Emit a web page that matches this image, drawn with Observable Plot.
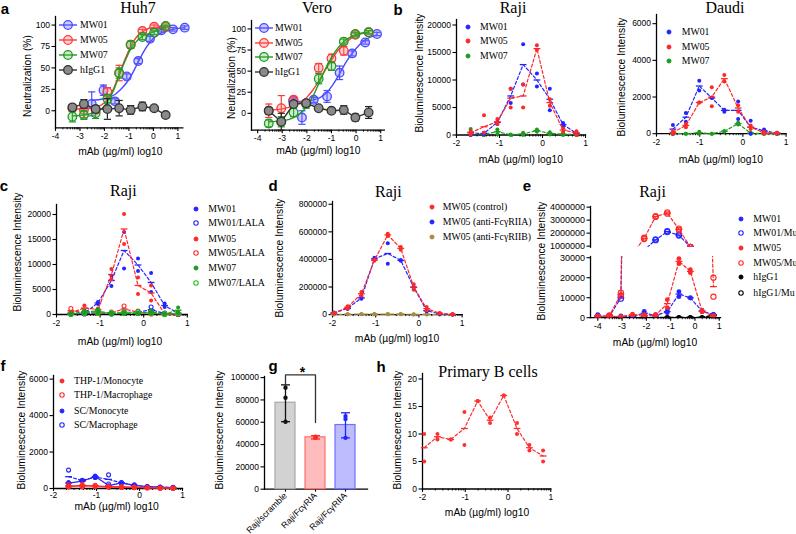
<!DOCTYPE html>
<html><head><meta charset="utf-8">
<script src="https://cdn.jsdelivr.net/npm/d3@7"></script>
<script src="https://cdn.jsdelivr.net/npm/@observablehq/plot@0.6"></script>
<style>
body{margin:0;background:#fff;}
#fig{position:relative;width:796px;height:534px;overflow:hidden;background:#fff;}
.t{position:absolute;white-space:nowrap;line-height:1;color:#000;}
</style></head><body><div id="fig"></div>
<script>
// ---------------- DATA ----------------
// a: Huh7 neutralization (%)
const huh7X = [-3.31, -2.84, -2.36, -1.88, -1.40, -0.93, -0.45, 0.03, 0.50];
const huh7X_MW01 = [-2.52, -2.04, -1.57, -1.09, -0.62, -0.14, 0.33, 0.80, 1.28];
const huh7_MW01 = [8, 24, 11, 40, 58, 84, 94, 95, 97];
const huh7_MW01_err = [14, 6, 3, 3, 3, 3, 2, 2, 2];
const huh7_MW05 = [3, 1, 1, 22, 44, 77, 93, 98, 98];
const huh7_MW05_err = [4, 9, 4, 5, 9, 4, 2, 2, 1];
const huh7_MW07 = [-7, -5, -3, 14, 44, 77, 86, 91, 99];
const huh7_MW07_err = [6, 5, 6, 5, 6, 4, 3, 2, 1];
const huh7_hIgG1 = [4, 8, 2, 2, 3, 1, 5, 3, -5];
const huh7_hIgG1_err = [3, 5, 4, 12, 9, 5, 5, 2, 2];
const huh7FitX = [-3.31, -2.84, -2.36, -1.88, -1.64, -1.40, -1.16, -0.93, -0.69, -0.45, -0.20, 0.03, 0.50];
const huh7Fit_MW05 = [2, 2, 4, 13, 25, 42, 60, 75, 86, 92, 96, 97, 98];
const huh7Fit_MW07 = [-6, -5, -2, 10, 23, 41, 58, 72, 81, 87, 90, 92, 97];
const huh7FitX_MW01 = [-2.52, -2.04, -1.57, -1.33, -1.09, -0.85, -0.62, -0.38, -0.14, 0.10, 0.33, 0.80, 1.28];
const huh7Fit_MW01 = [12, 14, 19, 25, 33, 44, 57, 70, 80, 87, 91, 95, 97];
// a: Vero
const veroX = [-3.55, -3.04, -2.54, -2.03, -1.52, -1.00, -0.50, -0.03, 0.51];
const vero_MW05 = [3, 6, 16, 12, 54, 65, 74, 93, 96];
const vero_MW05_err = [8, 15, 4, 3, 5, 5, 5, 2, 2];
const vero_MW07 = [-12, -10, 1, 11, 41, 56, 85, 94, 96];
const vero_MW07_err = [4, 6, 5, 5, 6, 5, 3, 2, 2];
const vero_hIgG1 = [3, -10, 11, 12, 6, 3, 4, -5, 1];
const vero_hIgG1_err = [4, 10, 3, 3, 2, 2, 5, 4, 7];
const veroX_MW01 = [-2.56, -2.20, -1.72, -1.18, -0.67, -0.16, 0.37, 0.85];
const vero_MW01 = [15, -5, 16, 20, 48, 71, 84, 94];
const vero_MW01_err = [3, 8, 3, 7, 8, 3, 2, 2];
const veroFitX = [-3.55, -3.04, -2.54, -2.03, -1.77, -1.52, -1.26, -1.00, -0.75, -0.50, -0.25, -0.03, 0.51];
const veroFit_MW05 = [4, 5, 9, 18, 27, 38, 51, 63, 74, 82, 88, 92, 96];
const veroFit_MW07 = [-10, -9, -5, 7, 19, 35, 52, 66, 77, 85, 90, 93, 96];
const veroFitX_MW01 = [-2.56, -2.20, -1.72, -1.45, -1.18, -0.92, -0.67, -0.42, -0.16, 0.10, 0.37, 0.85];
const veroFit_MW01 = [14, 14, 16, 19, 25, 35, 47, 60, 71, 80, 87, 93];

// b: Raji
const bX = [-1.67, -1.36, -1.05, -0.74, -0.45, -0.13, 0.17, 0.48, 0.79];
const b_MW01_r1 = [100, 400, 2400, 5800, 16500, 11200, 8400, 2200, 400];
const b_MW01_r2 = [0, 100, 2000, 8400, 9200, 8800, 4500, 1500, 100];
const b_MW01_mean = [100, 300, 2300, 7100, 12800, 10000, 6500, 1900, 300];
const b_MW05_r1 = [730, 3600, 2900, 8400, 9200, 16300, 6500, 1200, 700];
const b_MW05_r2 = [100, 400, 2000, 5000, 5000, 15500, 5300, 600, 0];
const b_MW05_mean = [400, 1500, 2400, 6700, 7100, 15700, 5900, 900, 350];
const b_MW07_r1 = [1100, 300, 1000, 100, 400, 1000, 500, 300, 200];
const b_MW07_r2 = [0, 0, 200, 0, 0, 600, 100, 0, 0];
const b_MW07_mean = [500, 150, 600, 50, 200, 800, 300, 150, 100];
// b: Daudi
const dauX = [-1.62, -1.32, -1.01, -0.72, -0.43, -0.11, 0.18, 0.49, 0.79];
const dau_MW01_r1 = [480, 1130, 2890, 1980, 1310, 1750, 710, 230, 50];
const dau_MW01_r2 = [0, 650, 2350, 1950, 1200, 800, 0, 100, 0];
const dau_MW01_mean = [250, 900, 2600, 1950, 1270, 1270, 350, 160, 30];
const dau_MW05_r1 = [150, 530, 1700, 2530, 3200, 1550, 450, 100, 50];
const dau_MW05_r2 = [0, 350, 1700, 1490, 2850, 1200, 250, 0, 0];
const dau_MW05_mean = [70, 450, 1700, 2000, 3000, 1400, 350, 50, 30];
const dau_MW07_r1 = [0, 0, 100, 0, 150, 600, 50, 0, 0];
const dau_MW07_r2 = [0, 0, 0, 0, 100, 500, 0, 0, 0];
const dau_MW07_mean = [0, 0, 50, 0, 130, 550, 30, 0, 0];

// c: Raji, LALA
const cX = [-1.67, -1.36, -1.05, -0.74, -0.45, -0.13, 0.17, 0.48, 0.79];
const c_MW01_r1 = [200, 500, 2500, 5700, 16500, 11200, 8300, 2200, 500];
const c_MW01_r2 = [0, 100, 2100, 7800, 9200, 8700, 4500, 1500, 0];
const c_MW01_mean = [100, 300, 2300, 6800, 12800, 9900, 6400, 1800, 250];
const c_MW01L_r1 = [300, 200, 500, 300, 500, 600, 1500, 300, 200];
const c_MW01L_r2 = [100, 100, 200, 100, 300, 300, 400, 100, 0];
const c_MW01L_mean = [200, 150, 350, 200, 400, 450, 950, 200, 100];
const c_MW05_r1 = [500, 1800, 1200, 9100, 20100, 7400, 5800, 300, 200];
const c_MW05_r2 = [100, 800, 800, 7000, 14100, 4100, 2800, 0, 0];
const c_MW05_mean = [300, 1300, 1000, 8000, 17100, 5800, 4300, 150, 100];
const c_MW05L_r1 = [1200, 600, 400, 500, 1700, 700, 400, 100, 100];
const c_MW05L_r2 = [300, 200, 200, 200, 500, 200, 100, 0, 0];
const c_MW05L_mean = [750, 400, 300, 350, 1100, 450, 250, 50, 50];
const c_MW07_r1 = [300, 800, 1100, 300, 300, 300, 800, 200, 1400];
const c_MW07_r2 = [0, 200, 300, 100, 100, 100, 200, 0, 300];
const c_MW07_mean = [150, 500, 700, 200, 200, 200, 500, 100, 850];
const c_MW07L_r1 = [100, 600, 700, 400, 600, 600, 500, 200, 300];
const c_MW07L_r2 = [0, 200, 200, 100, 200, 200, 200, 0, 100];
const c_MW07L_mean = [50, 400, 450, 250, 400, 400, 350, 100, 200];

// d: Raji, blocking
const dX = [-1.97, -1.65, -1.33, -1.03, -0.72, -0.42, -0.12, 0.18, 0.48, 0.78];
const d_ctrl_r1 = [12000, 61000, 164000, 398000, 587000, 490000, 220000, 55000, 12000, 2000];
const d_ctrl_r2 = [8000, 45000, 138000, 390000, 570000, 470000, 180000, 31000, 8000, 0];
const d_ctrl_mean = [10000, 53000, 151000, 394000, 578000, 480000, 200000, 43000, 10000, 1000];
const d_RIIA_r1 = [15000, 50000, 127000, 412000, 518000, 395000, 200000, 30000, 8000, 1000];
const d_RIIA_r2 = [10000, 40000, 115000, 395000, 368000, 390000, 195000, 25000, 5000, 0];
const d_RIIA_mean = [12000, 45000, 121000, 404000, 443000, 393000, 198000, 28000, 6000, 500];
const d_RIIB_r1 = [3000, 3000, 4000, 5000, 4000, 4000, 3000, 2000, 1000, 500];
const d_RIIB_r2 = [1000, 2000, 2000, 3000, 2000, 2000, 1000, 1000, 0, 0];
const d_RIIB_mean = [2000, 2500, 3000, 4000, 3000, 3000, 2000, 1500, 500, 250];

// e: Raji, Fc mutants (broken axis)
const eX = [-4.00, -3.52, -3.05, -2.57, -2.09, -1.62, -1.14, -0.66, -0.19, 0.29, 0.76];
const e_MW01_r1 = [1500, 800, 900, 900, 3200, 1500, 3500, 13000, 10000, 3600, 1800];
const e_MW01_r2 = [500, 300, 300, 300, 1500, 700, 2500, 10500, 9800, 3000, 1200];
const e_MW01_mean = [1000, 550, 600, 600, 2300, 1100, 3000, 11800, 9900, 3300, 1500];
const e_MW01Mu_r1 = [600, 900, 11000, 300000, 700000, 1520000, 2150000, 1880000, 940000, null, null];
const e_MW01Mu_r2 = [300, 500, 9500, 300000, 700000, 1460000, 2080000, 1820000, 930000, null, null];
const e_MW01Mu_mean = [450, 700, 10000, 300000, 700000, 1490000, 2110000, 1850000, 935000, null, null];
const e_MW05_r1 = [800, 1000, 700, 1800, 1500, 1500, 9000, 29500, 24000, 3600, 1000];
const e_MW05_r2 = [300, 400, 300, 1200, 800, 1000, 5000, 27000, 22500, 3000, 500];
const e_MW05_mean = [550, 700, 500, 1500, 1150, 1250, 7000, 28200, 23200, 3300, 750];
const e_MW05Mu_r1 = [400, 1200, 12500, 390000, 1650000, 3300000, 3600000, 2350000, 950000, 200000, 20000];
const e_MW05Mu_r2 = [200, 800, 11000, 390000, 1550000, 3250000, 3500000, 2250000, 930000, 200000, 10500];
const e_MW05Mu_mean = [300, 1000, 11800, 390000, 1600000, 3280000, 3550000, 2300000, 940000, 200000, 15500];
const e_hIgG1 = [300, 200, 200, 200, 200, 200, 200, 200, 200, 200, 1300];
const e_hIgG1Mu = [100, 100, 100, 100, 100, 100, 100, 100, 100, 100, 1200];

// f: myeloid cells
const fX = [-1.65, -1.33, -1.03, -0.72, -0.42, -0.12, 0.18, 0.48, 0.78];
const f_THPMono_r1 = [120, 280, 150, 100, 120, 90, 60, 40, 30];
const f_THPMono_r2 = [60, 80, 80, 50, 60, 40, 30, 20, 10];
const f_THPMono_mean = [90, 180, 115, 75, 90, 65, 45, 30, 20];
const f_THPMac_r1 = [200, 150, 180, 140, 100, 80, 50, 30, 20];
const f_THPMac_r2 = [100, 100, 120, 80, 60, 50, 30, 20, 10];
const f_THPMac_mean = [150, 125, 150, 110, 80, 65, 40, 25, 15];
const f_SCMono_r1 = [350, 420, 720, 180, 330, 190, 120, 80, 60];
const f_SCMono_r2 = [250, 380, 600, 140, 280, 150, 100, 60, 40];
const f_SCMono_mean = [300, 400, 660, 160, 305, 170, 110, 70, 50];
const f_SCMac_r1 = [1010, 430, 650, 750, 330, 200, 110, 80, 60];
const f_SCMac_r2 = [300, 450, 600, 250, 300, 150, 80, 60, 40];
const f_SCMac_mean = [650, 440, 625, 500, 315, 175, 95, 70, 50];

// g: knockdown bars
const gCats = ["Raji/scramble", "Raji/FcγRIA", "Raji/FcγRIIA"];
const gMean = [77500, 46500, 57500];
const gLo = [60500, 45000, 46000];
const gHi = [93500, 48000, 68500];
const gRep1 = [91000, 46000, 65500];
const gRep2 = [82000, 47000, 63000];
const gRep3 = [60500, 46800, 46000];
const gBracketY = [93500, 102500, 102500, 59700];

// h: primary B cells
const hX = [-1.96, -1.65, -1.34, -1.02, -0.71, -0.42, -0.10, 0.21, 0.50, 0.82];
const h_r1 = [10, 10, 9, 14, 16, 13, 17, 12, 8, 7];
const h_r2 = [5, 9, 9, 8, 16, 12, 17, 10, 7, 5];
const h_mean = [7.5, 9.5, 9, 11, 16, 12.5, 17, 11, 7.5, 6];

// ---------------- HELPERS ----------------
const fig = document.getElementById("fig");
const SANS = "'Liberation Sans', Arial, sans-serif";
const SERIF = "'Liberation Serif', 'Times New Roman', serif";
const BLUE = "#2424ff", RED = "#ff2828", GREEN = "#1c9c1c", OLIVE = "#a48d40", BLACK = "#000";
const DASH = {draw(ctx, size) { const w = Math.sqrt(size / Math.PI); ctx.moveTo(-w, 0); ctx.lineTo(w, 0); }};
const rows = (xs, ys) => xs.map((x, i) => ({x, y: ys[i]})).filter(d => d.y != null);
function logMinor(lo, hi) {
  const t = [];
  for (let k = Math.floor(lo); k < hi; k++) for (let m = 2; m <= 9; m++) { const v = k + Math.log10(m); if (v >= lo && v <= hi) t.push(v); }
  return t;
}
function txt(s, cx, cy, {size = 10.3, family = SANS, weight = "normal", rotate = 0, anchor = "middle"} = {}) {
  const d = document.createElement("div");
  d.className = "t"; d.textContent = s;
  d.style.fontFamily = family; d.style.fontSize = size + "px"; d.style.fontWeight = weight;
  d.style.left = cx + "px"; d.style.top = cy + "px";
  d.style.transform = `translate(${anchor === "start" ? "0" : "-50%"},-50%)` + (rotate ? ` rotate(${rotate}deg)` : "");
  fig.appendChild(d);
}
function legend(mx, tx, ys, items, size = 9.8) {
  items.forEach((it, i) => {
    const y = ys[i];
    const s = document.createElementNS("http://www.w3.org/2000/svg", "svg");
    s.setAttribute("width", 30); s.setAttribute("height", 20);
    s.style.position = "absolute"; s.style.left = (mx - 15) + "px"; s.style.top = (y - 10) + "px"; s.style.overflow = "visible";
    let h = "";
    if (it.line) h += `<line x1="${15 - it.line}" x2="${15 + it.line}" y1="10" y2="10" stroke="${it.color}" stroke-width="1.4"/>`;
    h += `<circle cx="15" cy="10" r="${it.r || 2}" fill="${it.fill || it.color}" stroke="${it.stroke || it.color}" stroke-width="${it.sw || 1}"/>`;
    s.innerHTML = h;
    fig.appendChild(s);
    txt(it.label, tx, y, {size, family: SERIF, anchor: "start"});
  });
}
function panel(o) {
  const mL = o.mL ?? 46, mR = o.mR ?? 14, mT = o.mT ?? 8, mB = o.mB ?? 20;
  const W = o.x1 - o.x0 + mL + mR, H = o.y1 - o.y0 + mT + mB;
  const marks = [];
  marks.push(Plot.frame({anchor: "left", strokeWidth: 1.3}));
  if (o.frameBottom !== false) marks.push(Plot.frame({anchor: "bottom", strokeWidth: 1.3}));
  marks.push(Plot.axisY({ticks: o.yTicks, tickSize: 3.5, tickPadding: 2, tickFormat: d => String(d), label: null, strokeWidth: 1.1}));
  if (o.xTicks) marks.push(Plot.axisX({ticks: o.xTicks, tickSize: o.xTickSize ?? 3.5, tickPadding: o.xPad ?? 1.5, tickFormat: d => String(d), label: null, strokeWidth: 1.1}));
  if (o.xMinor) marks.push(Plot.axisX({ticks: o.xMinor, tickSize: 2, tickFormat: () => "", label: null, strokeWidth: 0.9}));
  if (o.xBand) marks.push(Plot.axisX({tickSize: 3, tickRotate: -45, tickPadding: 2, label: null, strokeWidth: 1.1, fontSize: 8.8}));
  marks.push(...o.marks);
  const xs = o.xBand ? {type: "band", domain: o.xBand, padding: 0.33, label: null}
    : (o.xTicks ? {domain: o.xDomain, label: null} : {domain: o.xDomain, label: null, axis: null});
  const svg = Plot.plot({
    width: W, height: H, marginLeft: mL, marginRight: mR, marginTop: mT, marginBottom: mB,
    x: xs, y: {domain: o.yDomain, label: null}, color: {type: "identity"},
    style: {fontFamily: SANS, fontSize: (o.fs ?? 8.5) + "px", color: "#000", background: "transparent", overflow: "visible"},
    marks
  });
  svg.style.position = "absolute"; svg.style.left = (o.x0 - mL) + "px"; svg.style.top = (o.y0 - mT) + "px";
  svg.style.maxWidth = "none";
  fig.appendChild(svg);
}
function fitSeries(xs, ys, errs, fx, fy, col, fillCol, capCol, curve) {
  const pts = xs.map((x, i) => ({x, y: ys[i], e: errs[i]}));
  return [
    Plot.line(rows(fx, fy), {x: "x", y: "y", stroke: col, strokeWidth: 1.4, curve}),
    Plot.ruleX(pts, {x: "x", y1: d => d.y - d.e, y2: d => d.y + d.e, stroke: capCol, strokeWidth: 1.2}),
    Plot.dot(pts, {x: "x", y: d => d.y + d.e, symbol: DASH, r: 3.6, stroke: capCol, strokeWidth: 1.2}),
    Plot.dot(pts, {x: "x", y: d => d.y - d.e, symbol: DASH, r: 3.6, stroke: capCol, strokeWidth: 1.2}),
    Plot.dot(pts, {x: "x", y: "y", r: 4.3, fill: fillCol, stroke: col, strokeWidth: 1.3})
  ];
}
function repSeries(xs, reps, mean, col, {open = false, r = 2, dash = "3,2.2", clip = false, lineW = 1.2} = {}) {
  const pts = reps.flatMap(rep => rows(xs, rep));
  return [
    Plot.line(rows(xs, mean), {x: "x", y: "y", stroke: col, strokeWidth: lineW, strokeDasharray: dash, clip}),
    Plot.dot(rows(xs, mean), {x: "x", y: "y", symbol: DASH, r: 3.4, stroke: col, strokeWidth: 1.3, clip}),
    Plot.dot(pts, {x: "x", y: "y", r, fill: open ? "none" : col, stroke: open ? col : "none", strokeWidth: 1.1, clip})
  ];
}
const XL = "mAb (µg/ml) log10", YL = "Bioluminescence Intensity";

// ---------------- PANEL a ----------------
panel({x0: 54.7, x1: 182, y0: 15.7, y1: 127.1, xDomain: [-4, 1.2], yDomain: [-20, 110],
  xTicks: [-4, -3, -2, -1, 0, 1], xMinor: logMinor(-4, 1.2), yTicks: [0, 25, 50, 75, 100], fs: 8.6,
  marks: [
    ...fitSeries(huh7X_MW01, huh7_MW01, huh7_MW01_err, huh7FitX_MW01, huh7Fit_MW01, "#4a4aff", "rgba(110,110,255,0.35)", "#4a4aff", "monotone-x"),
    ...fitSeries(huh7X, huh7_MW05, huh7_MW05_err, huh7FitX, huh7Fit_MW05, "#ff3a3a", "rgba(255,110,110,0.3)", "#ff3a3a", "monotone-x"),
    ...fitSeries(huh7X, huh7_MW07, huh7_MW07_err, huh7FitX, huh7Fit_MW07, "#1f9a1f", "rgba(90,190,90,0.3)", "#1f9a1f", "monotone-x"),
    ...fitSeries(huh7X, huh7_hIgG1, huh7_hIgG1_err, huh7X, huh7_hIgG1, "#333", "#8a8a8a", "#222", "linear")
  ]});
panel({x0: 251.1, x1: 384, y0: 19.9, y1: 129.6, xDomain: [-4.25, 1.15], yDomain: [-20, 110],
  xTicks: [-4, -3, -2, -1, 0, 1], xMinor: logMinor(-4, 1.15), yTicks: [0, 25, 50, 75, 100], fs: 8.6,
  marks: [
    ...fitSeries(veroX_MW01, vero_MW01, vero_MW01_err, veroFitX_MW01, veroFit_MW01, "#4a4aff", "rgba(110,110,255,0.35)", "#4a4aff", "monotone-x"),
    ...fitSeries(veroX, vero_MW05, vero_MW05_err, veroFitX, veroFit_MW05, "#ff3a3a", "rgba(255,110,110,0.3)", "#ff3a3a", "monotone-x"),
    ...fitSeries(veroX, vero_MW07, vero_MW07_err, veroFitX, veroFit_MW07, "#1f9a1f", "rgba(90,190,90,0.3)", "#1f9a1f", "monotone-x"),
    ...fitSeries(veroX, vero_hIgG1, vero_hIgG1_err, veroX, vero_hIgG1, "#333", "#8a8a8a", "#222", "linear")
  ]});
const aLeg = (c, f) => ({color: c, fill: f, r: 4.3, sw: 1.3, line: 9});
legend(68.3, 80, [25, 40, 55, 70], [
  {label: "MW01", ...aLeg("#4a4aff", "rgba(110,110,255,0.35)")}, {label: "MW05", ...aLeg("#ff3a3a", "rgba(255,110,110,0.3)")},
  {label: "MW07", ...aLeg("#1f9a1f", "rgba(90,190,90,0.3)")}, {label: "hIgG1", ...aLeg("#333", "#8a8a8a")}]);
legend(264, 275, [28.3, 42.7, 57.3, 71.7], [
  {label: "MW01", ...aLeg("#4a4aff", "rgba(110,110,255,0.35)")}, {label: "MW05", ...aLeg("#ff3a3a", "rgba(255,110,110,0.3)")},
  {label: "MW07", ...aLeg("#1f9a1f", "rgba(90,190,90,0.3)")}, {label: "hIgG1", ...aLeg("#333", "#8a8a8a")}]);
txt("Huh7", 138, 7.5, {size: 16, family: SERIF});
txt("Vero", 317, 7.5, {size: 16, family: SERIF});
txt("Neutralization (%)", 28, 76, {rotate: -90});
txt("Neutralization (%)", 231.5, 78, {rotate: -90});
txt(XL, 120.3, 151.7); txt(XL, 318.3, 150.5);

// ---------------- PANEL b ----------------
panel({x0: 456.3, x1: 585.3, y0: 18.8, y1: 134.3, xDomain: [-2, 1], yDomain: [0, 21000],
  xTicks: [-2, -1, 0, 1], xMinor: logMinor(-2, 1), yTicks: [0, 5000, 10000, 15000, 20000],
  marks: [
    ...repSeries(bX, [b_MW07_r1, b_MW07_r2], b_MW07_mean, GREEN),
    ...repSeries(bX, [b_MW01_r1, b_MW01_r2], b_MW01_mean, BLUE),
    ...repSeries(bX, [b_MW05_r1, b_MW05_r2], b_MW05_mean, RED)
  ]});
panel({x0: 655.6, x1: 785.2, y0: 14.1, y1: 133.3, xDomain: [-2, 1], yDomain: [0, 6500],
  xTicks: [-2, -1, 0, 1], xMinor: logMinor(-2, 1), yTicks: [0, 2000, 4000, 6000],
  marks: [
    ...repSeries(dauX, [dau_MW07_r1, dau_MW07_r2], dau_MW07_mean, GREEN),
    ...repSeries(dauX, [dau_MW01_r1, dau_MW01_r2], dau_MW01_mean, BLUE),
    ...repSeries(dauX, [dau_MW05_r1, dau_MW05_r2], dau_MW05_mean, RED)
  ]});
legend(468.3, 480, [26.7, 40.7, 55.7], [{label: "MW01", color: BLUE}, {label: "MW05", color: RED}, {label: "MW07", color: GREEN}]);
legend(669.3, 681.7, [31.7, 46.7, 61], [{label: "MW01", color: BLUE}, {label: "MW05", color: RED}, {label: "MW07", color: GREEN}]);
txt("Raji", 513, 8, {size: 16, family: SERIF});
txt("Daudi", 725, 8, {size: 16, family: SERIF});
txt(YL, 420, 73, {rotate: -90}); txt(YL, 621.7, 76.7, {rotate: -90});
txt(XL, 520.8, 160); txt(XL, 720.8, 160);

// ---------------- PANEL c ----------------
panel({x0: 56.1, x1: 186.9, y0: 204.3, y1: 314.3, xDomain: [-2, 1], yDomain: [0, 22000],
  xTicks: [-2, -1, 0, 1], xMinor: logMinor(-2, 1), yTicks: [0, 5000, 10000, 15000, 20000],
  marks: [
    ...repSeries(cX, [c_MW01L_r1, c_MW01L_r2], c_MW01L_mean, BLUE, {open: true}),
    ...repSeries(cX, [c_MW05L_r1, c_MW05L_r2], c_MW05L_mean, RED, {open: true}),
    ...repSeries(cX, [c_MW01_r1, c_MW01_r2], c_MW01_mean, BLUE),
    ...repSeries(cX, [c_MW05_r1, c_MW05_r2], c_MW05_mean, RED),
    ...repSeries(cX, [c_MW07L_r1, c_MW07L_r2], c_MW07L_mean, "#22c022", {open: true}),
    ...repSeries(cX, [c_MW07_r1, c_MW07_r2], c_MW07_mean, GREEN)
  ]});
legend(196, 208.3, [209, 223.3, 239, 253.3, 268.3, 282.7], [
  {label: "MW01", color: BLUE}, {label: "MW01/LALA", color: BLUE, fill: "none", r: 2.2, sw: 1.1},
  {label: "MW05", color: RED}, {label: "MW05/LALA", color: RED, fill: "none", r: 2.2, sw: 1.1},
  {label: "MW07", color: GREEN}, {label: "MW07/LALA", color: "#22c022", fill: "none", r: 2.2, sw: 1.1}]);
txt("Raji", 123.3, 190.5, {size: 16, family: SERIF});
txt(YL, 18.3, 251.7, {rotate: -90}); txt(XL, 120, 341.7);

// ---------------- PANEL d ----------------
panel({x0: 331.9, x1: 461.5, y0: 201.2, y1: 314.3, xDomain: [-2, 1], yDomain: [0, 820000],
  xTicks: [-2, -1, 0, 1], xMinor: logMinor(-2, 1), yTicks: [0, 200000, 400000, 600000, 800000], mL: 50,
  marks: [
    ...repSeries(dX, [d_RIIB_r1, d_RIIB_r2], d_RIIB_mean, OLIVE),
    ...repSeries(dX, [d_RIIA_r1, d_RIIA_r2], d_RIIA_mean, BLUE),
    ...repSeries(dX, [d_ctrl_r1, d_ctrl_r2], d_ctrl_mean, RED)
  ]});
legend(432, 442.7, [206.7, 222.3, 236.7], [
  {label: "MW05 (control)", color: RED}, {label: "MW05 (anti-FcγRIIA)", color: BLUE}, {label: "MW05 (anti-FcγRIIB)", color: OLIVE}]);
txt("Raji", 388.3, 191.7, {size: 16, family: SERIF});
txt(YL, 280, 258.3, {rotate: -90}); txt(XL, 397, 339.3);

// ---------------- PANEL e ----------------
const eMarks = () => [
  ...repSeries(eX, [e_hIgG1], e_hIgG1, BLACK, {clip: true}),
  ...repSeries(eX, [e_hIgG1Mu], e_hIgG1Mu, BLACK, {open: true, clip: true}),
  ...repSeries(eX, [e_MW01_r1, e_MW01_r2], e_MW01_mean, BLUE, {clip: true, r: 2.4}),
  ...repSeries(eX, [e_MW01Mu_r1, e_MW01Mu_r2], e_MW01Mu_mean, BLUE, {open: true, clip: true, r: 2.6}),
  ...repSeries(eX, [e_MW05_r1, e_MW05_r2], e_MW05_mean, RED, {clip: true, r: 2.4}),
  ...repSeries(eX, [e_MW05Mu_r1, e_MW05Mu_r2], e_MW05Mu_mean, RED, {open: true, clip: true, r: 2.6})
];
panel({x0: 589.5, x1: 719.5, y0: 206, y1: 246.7, xDomain: [-4.3, 1.05], yDomain: [920000, 4050000],
  frameBottom: false, yTicks: [1000000, 2000000, 3000000, 4000000], mL: 50, mB: 4, fs: 9, marks: eMarks()});
panel({x0: 589.5, x1: 719.5, y0: 256.1, y1: 317.3, xDomain: [-4.3, 1.05], yDomain: [0, 30600],
  xTicks: [-4, -3, -2, -1, 0, 1], xMinor: logMinor(-4, 1.05), yTicks: [0, 10000, 20000, 30000], mL: 50, mT: 4, fs: 9, marks: eMarks()});
legend(741, 753.3, [219.3, 233.3, 248.3, 263.3, 277.3, 292.7], [
  {label: "MW01", color: BLUE}, {label: "MW01/Mu", color: BLUE, fill: "none", r: 2.2, sw: 1.1},
  {label: "MW05", color: RED}, {label: "MW05/Mu", color: RED, fill: "none", r: 2.2, sw: 1.1},
  {label: "hIgG1", color: BLACK}, {label: "hIgG1/Mu", color: BLACK, fill: "none", r: 2.2, sw: 1.1}]);
txt("Raji", 652.5, 191.7, {size: 16, family: SERIF});
txt(YL, 541.7, 260.8, {rotate: -90}); txt(XL, 655, 343);

// ---------------- PANEL f ----------------
panel({x0: 52.5, x1: 181.5, y0: 374.7, y1: 487.7, xDomain: [-2, 1], yDomain: [0, 6200],
  xTicks: [-2, -1, 0, 1], xMinor: logMinor(-2, 1), yTicks: [0, 2000, 4000, 6000], xPad: 0.5, xTickSize: 3,
  marks: [
    ...repSeries(fX, [f_SCMac_r1, f_SCMac_r2], f_SCMac_mean, BLUE, {open: true}),
    ...repSeries(fX, [f_SCMono_r1, f_SCMono_r2], f_SCMono_mean, BLUE, {dash: null}),
    ...repSeries(fX, [f_THPMac_r1, f_THPMac_r2], f_THPMac_mean, RED, {open: true, dash: null}),
    ...repSeries(fX, [f_THPMono_r1, f_THPMono_r2], f_THPMono_mean, RED, {dash: null})
  ]});
legend(61.7, 74, [380.7, 395, 410.7, 425], [
  {label: "THP-1/Monocyte", color: RED}, {label: "THP-1/Macrophage", color: RED, fill: "none", r: 2.2, sw: 1.1},
  {label: "SC/Monocyte", color: BLUE}, {label: "SC/Macrophage", color: BLUE, fill: "none", r: 2.2, sw: 1.1}]);
txt(YL, 21.7, 430, {rotate: -90}); txt(XL, 116.7, 507);

// ---------------- PANEL g ----------------
const gFill = ["#d2d2d2", "#ffbcbc", "#bcbcff"], gStroke = ["#a8a8a8", "#ff7070", "#7070ff"], gDot = ["#111", RED, BLUE];
const gRows = gCats.map((c, i) => ({cat: c, mean: gMean[i], lo: gLo[i], hi: gHi[i], fill: gFill[i], stroke: gStroke[i], dot: gDot[i]}));
const gPts = [gRep1, gRep2, gRep3].flatMap(rep => gCats.map((c, i) => ({cat: c, v: rep[i], dot: gDot[i]})));
const gBr = [gCats[0], gCats[0], gCats[1], gCats[1]].map((c, i) => ({cat: c, y: gBracketY[i]}));
panel({x0: 264, x1: 367, y0: 375.6, y1: 488.3, xBand: gCats, yDomain: [0, 101000], mR: 4, mB: 44,
  yTicks: [0, 20000, 40000, 60000, 80000, 100000],
  marks: [
    Plot.barY(gRows, {x: "cat", y: "mean", fill: "fill", stroke: "stroke", strokeWidth: 1.2}),
    Plot.ruleX(gRows, {x: "cat", y1: "lo", y2: "hi", stroke: "dot", strokeWidth: 1.3}),
    Plot.dot(gRows, {x: "cat", y: "hi", symbol: DASH, r: 4.5, stroke: "dot", strokeWidth: 1.3}),
    Plot.dot(gRows, {x: "cat", y: "lo", symbol: DASH, r: 4.5, stroke: "dot", strokeWidth: 1.3}),
    Plot.dot(gPts, {x: "cat", y: "v", r: 2.2, fill: "dot"}),
    Plot.line(gBr, {x: "cat", y: "y", stroke: "#333", strokeWidth: 1.3}),
    Plot.text([gCats[0]], {x: d => d, y: 104500, text: () => "*", dx: 17, fontSize: 14, fontWeight: "bold"})
  ]});
txt(YL, 220, 430, {rotate: -90});

// ---------------- PANEL h ----------------
panel({x0: 422.3, x1: 550.6, y0: 372.8, y1: 488.3, xDomain: [-2, 1], yDomain: [0, 21],
  xTicks: [-2, -1, 0, 1], xMinor: logMinor(-2, 1), yTicks: [0, 5, 10, 15, 20],
  marks: [...repSeries(hX, [h_r1, h_r2], h_mean, "#ff3030")]});
txt("Primary B cells", 488, 371.7, {size: 16, family: SERIF});
txt(YL, 398.3, 430, {rotate: -90}); txt(XL, 487, 513);

// panel letters
[["a", 5, 8], ["b", 398, 9], ["c", 4, 185], ["d", 273, 185], ["e", 527, 185], ["f", 3, 365], ["g", 273, 365], ["h", 381, 366]]
  .forEach(([s, x, y]) => txt(s, x, y, {size: 15, weight: "bold"}));
</script></body></html>
